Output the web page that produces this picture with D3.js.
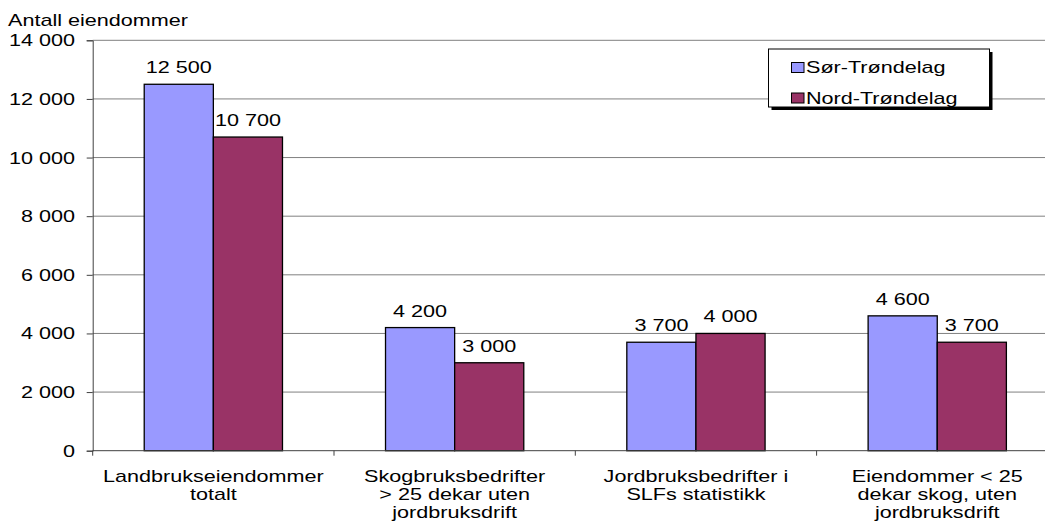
<!DOCTYPE html>
<meta charset="utf-8">
<style>
body { margin: 0; background: #fff; }
text { font-family: 'Liberation Sans', Arial, sans-serif; fill: #000; font-size: 17px; }
</style>
<script src="https://d3js.org/d3.v7.min.js"></script>
<div id="chart"></div>
<script>
// data
var categories = [
  ["Landbrukseiendommer", "totalt"],
  ["Skogbruksbedrifter", "> 25 dekar uten", "jordbruksdrift"],
  ["Jordbruksbedrifter i", "SLFs statistikk"],
  ["Eiendommer < 25", "dekar skog, uten", "jordbruksdrift"]
];
var seriesNames = ["Sør-Trøndelag", "Nord-Trøndelag"];
var sorTrondelag = [12500, 4200, 3700, 4600];
var nordTrondelag = [10700, 3000, 4000, 3700];
var yTicks = [0, 2000, 4000, 6000, 8000, 10000, 12000, 14000];
var colors = ["#9999ff", "#993366"];

var width = 1045, height = 523;
var margin = {top: 40.3, left: 92.7, bottom: 72.3};
var plotW = 241.3 * 4; // plot runs past the right edge of the window
var sx = 1.27; // the original text is drawn wide

var svg = d3.select("#chart").append("svg")
  .attr("width", width)
  .attr("height", height);

var fmt = d3.formatLocale({decimal: ",", thousands: " ", grouping: [3], currency: ["", ""]}).format(",");

// place a text at x,y with the horizontal stretch
function place(x, y) {
  return "translate(" + x + "," + y + ") scale(" + sx + ",1)";
}

var x = d3.scaleBand()
  .domain(d3.range(categories.length))
  .range([margin.left, margin.left + plotW])
  .paddingInner(0.427)
  .paddingOuter(0.2135);

var x1 = d3.scaleBand()
  .domain(d3.range(seriesNames.length))
  .range([0, x.bandwidth()]);

var y = d3.scaleLinear()
  .domain([0, 14000])
  .range([height - margin.bottom, margin.top]);

// gridlines
svg.append("g")
  .selectAll("line")
  .data(yTicks.filter(function(d){ return d > 0; }))
  .enter().append("line")
    .attr("x1", margin.left)
    .attr("x2", margin.left + plotW)
    .attr("y1", function(d){ return y(d); })
    .attr("y2", function(d){ return y(d); })
    .style("stroke", "#808080")
    .style("stroke-width", 1);

// y axis
var yAxis = svg.append("g")
  .attr("transform", "translate(" + margin.left + ",0)")
  .call(d3.axisLeft(y).tickValues(yTicks).tickSize(6).tickFormat(""));
yAxis.select(".domain").style("stroke", "#404040");
yAxis.selectAll(".tick line").style("stroke", "#404040");
svg.append("g")
  .selectAll("text")
  .data(yTicks)
  .enter().append("text")
    .attr("text-anchor", "end")
    .attr("transform", function(d){ return place(75, y(d) + 6); })
    .text(function(d){ return fmt(d); });

// bars
var series = [sorTrondelag, nordTrondelag];
series.forEach(function(vals, s) {
  var g = svg.append("g");
  g.selectAll("rect")
    .data(vals)
    .enter().append("rect")
      .attr("x", function(d, i){ return x(i) + x1(s); })
      .attr("y", function(d){ return y(d); })
      .attr("width", x1.bandwidth())
      .attr("height", function(d){ return y(0) - y(d); })
      .style("fill", colors[s])
      .style("stroke", "#000")
      .style("stroke-width", 1.3);
  g.selectAll("text")
    .data(vals)
    .enter().append("text")
      .attr("text-anchor", "middle")
      .attr("transform", function(d, i){ return place(x(i) + x1(s) + x1.bandwidth() / 2, y(d) - 11); })
      .text(function(d){ return fmt(d); });
});

// x axis
var step = x.step();
var xg = svg.append("g");
xg.append("line")
  .attr("x1", margin.left).attr("x2", margin.left + plotW)
  .attr("y1", y(0)).attr("y2", y(0))
  .style("stroke", "#404040");
xg.selectAll(".xt")
  .data(d3.range(categories.length + 1))
  .enter().append("line")
    .attr("x1", function(i){ return margin.left + i * step; })
    .attr("x2", function(i){ return margin.left + i * step; })
    .attr("y1", y(0)).attr("y2", y(0) + 5)
    .style("stroke", "#404040");

xg.selectAll(".cat")
  .data(categories)
  .enter().append("text")
    .attr("text-anchor", "middle")
    .attr("transform", function(d, i){ return place(x(i) + x.bandwidth() / 2, y(0) + 31); })
    .each(function(d) {
      var t = d3.select(this);
      d.forEach(function(line, k) {
        t.append("tspan")
          .attr("x", 0)
          .attr("dy", k === 0 ? 0 : 18)
          .text(line);
      });
    });

// y title
svg.append("text")
  .attr("transform", place(8, 26))
  .text("Antall eiendommer");

// legend
var lg = svg.append("g").attr("transform", "translate(768.5,49)");
lg.append("rect")
  .attr("x", 3).attr("y", 3)
  .attr("width", 221).attr("height", 58)
  .style("fill", "#000");
lg.append("rect")
  .attr("width", 221).attr("height", 58)
  .style("fill", "#fff")
  .style("stroke", "#000")
  .style("stroke-width", 1);
var items = lg.selectAll(".item")
  .data(seriesNames)
  .enter().append("g")
    .attr("transform", function(d, i){ return "translate(23," + (13.5 + i * 30.5) + ")"; });
items.append("rect")
  .attr("width", 12.5).attr("height", 10)
  .style("fill", function(d, i){ return colors[i]; })
  .style("stroke", "#000")
  .style("stroke-width", 1);
items.append("text")
  .attr("transform", place(14.5, 10.5))
  .text(function(d){ return d; });
</script>
